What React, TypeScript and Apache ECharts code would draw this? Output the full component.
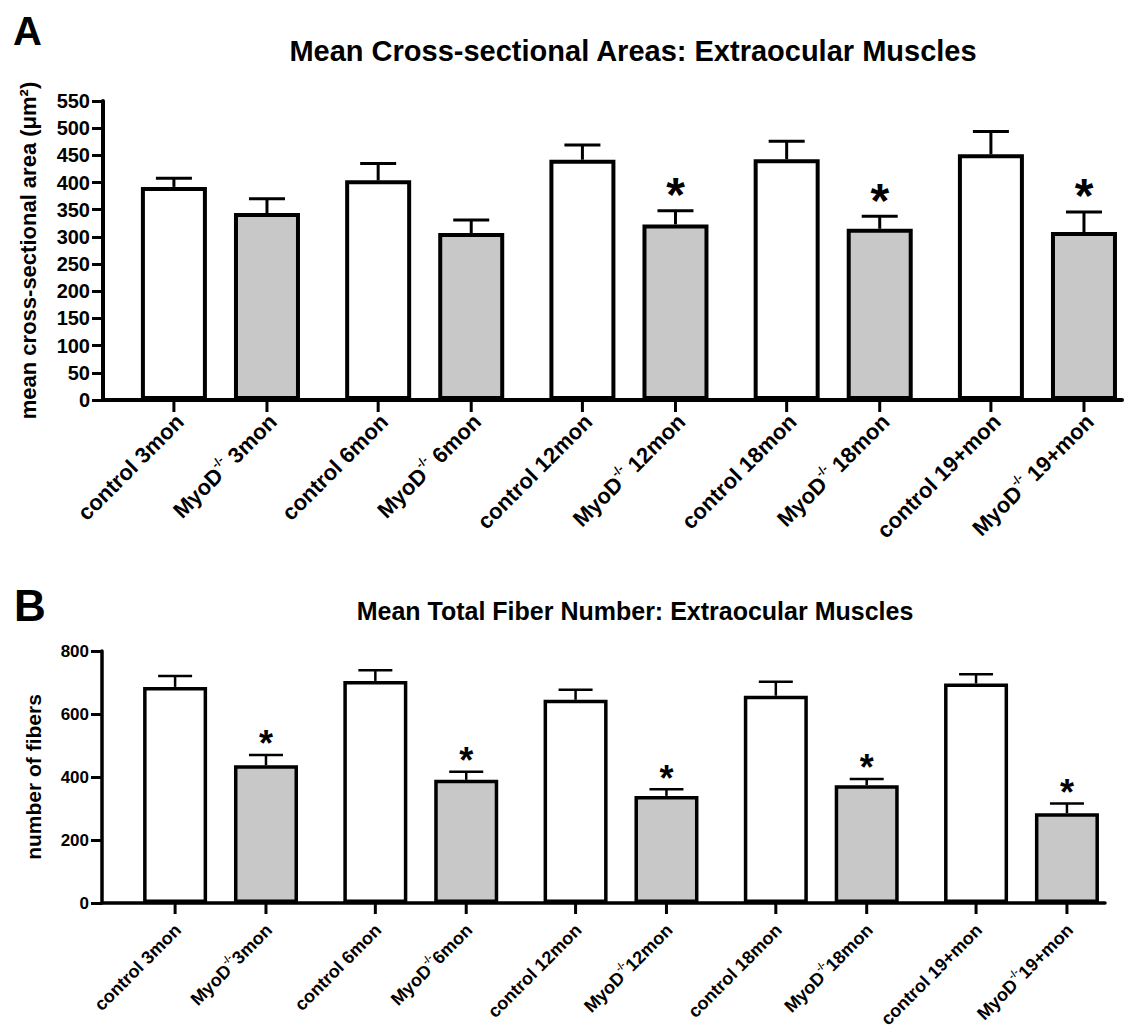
import React, { useEffect, useRef } from 'react';
import * as echarts from 'echarts';

const FONT = '"Liberation Sans", Arial, Helvetica, sans-serif';

// ---------- data ----------
const groups = ['3mon', '6mon', '12mon', '18mon', '19+mon'];

const csaControl = [392, 404, 442, 443, 452];
const csaControlErr = [16, 31, 27, 33, 42];
const csaMyoD = [344, 307, 323, 315, 309];
const csaMyoDErr = [26, 24, 25, 23, 37];
const csaMyoDSig = [0, 0, 1, 1, 1];
const csaYTicks = [0, 550, 50]; // min, max, interval

const fiberControl = [686, 705, 645, 658, 697];
const fiberControlErr = [35, 34, 32, 44, 29];
const fiberMyoD = [437, 391, 340, 374, 285];
const fiberMyoDErr = [33, 26, 21, 20, 31];
const fiberMyoDSig = [1, 1, 1, 1, 1];
const fiberYTicks = [0, 800, 200];

const titleA = 'Mean Cross-sectional Areas: Extraocular Muscles';
const titleB = 'Mean Total Fiber Number: Extraocular Muscles';
const yNameA = 'mean cross-sectional area (\u03bcm\u00b2)';
const yNameB = 'number of fibers';

// ---------- panel styles ----------
const panels = [
  {
    grid: { left: 103, top: 101, width: 1019, height: 299 },
    xMin: -0.575, xMax: 4.414,
    barW: 66, gap: 0.41, border: 4, axisW: 4, errW: 3, capW: 36,
    tickLen: 12, tickW: 3, labelSize: 22, supSize: 12, labelDx: 6, labelDy: 18, sep: ' ',
    starSize: 48, starDy: 16, yLabelSize: 20, yNameSize: 22, yNameGap: 64, yLabelMargin: 13,
  },
  {
    grid: { left: 102, top: 651, width: 1003, height: 252 },
    xMin: -0.592, xMax: 4.417,
    barW: 64, gap: 0.42, border: 3.5, axisW: 3.5, errW: 2.5, capW: 34,
    tickLen: 11, tickW: 3, labelSize: 18, supSize: 10, labelDx: 3, labelDy: 24, sep: '',
    starSize: 36, starDy: 11, yLabelSize: 17, yNameSize: 21, yNameGap: 58, yLabelMargin: 13,
  },
];

function customData(ctrl: number[], ctrlErr: number[], myo: number[], myoErr: number[], sig: number[]) {
  const out: number[][] = [];
  groups.forEach((_, i) => {
    out.push([i, 0, ctrl[i], ctrlErr[i], 0]);
    out.push([i, 1, myo[i], myoErr[i], sig[i]]);
  });
  return out;
}

function makeRender(p: any) {
  const rich = {
    a: { fontSize: p.labelSize, fontWeight: 'bold', fontFamily: FONT, color: '#000', lineHeight: p.labelSize + 6 },
    s: { fontSize: p.supSize, fontWeight: 'bold', fontFamily: FONT, color: '#000', verticalAlign: 'top' },
  };
  return (params: any, api: any) => {
    const g = api.value(0);
    const side = api.value(1);
    const mean = api.value(2);
    const err = api.value(3);
    const sig = api.value(4);
    const base = api.coord([g, 0]);
    const half = (p.barW * (1 + p.gap)) / 2;
    const cx = base[0] + (side === 0 ? -half : half);
    const y0 = base[1];
    const yTop = api.coord([g, mean])[1];
    const yCap = api.coord([g, mean + err])[1];
    const label = side === 0
      ? `{a|control ${groups[g]}}`
      : `{a|MyoD}{s|-/-}{a|${p.sep}${groups[g]}}`;
    const children: any[] = [
      { type: 'line', shape: { x1: cx, y1: yTop, x2: cx, y2: yCap }, style: { stroke: '#000', lineWidth: p.errW } },
      { type: 'line', shape: { x1: cx - p.capW / 2, y1: yCap, x2: cx + p.capW / 2, y2: yCap }, style: { stroke: '#000', lineWidth: p.errW } },
      { type: 'line', shape: { x1: cx, y1: y0, x2: cx, y2: y0 + p.tickLen }, style: { stroke: '#000', lineWidth: p.tickW } },
      {
        type: 'text', x: cx + p.labelDx, y: y0 + p.labelDy, rotation: Math.PI / 4,
        style: { text: label, rich, align: 'right', verticalAlign: 'middle', fill: '#000' },
      },
    ];
    if (sig) {
      children.push({
        type: 'text', x: cx, y: yCap - p.starDy,
        style: { text: '*', fill: '#000', font: `bold ${p.starSize}px ${FONT}`, align: 'center', verticalAlign: 'middle' },
      });
    }
    return { type: 'group', children };
  };
}

export default function App() {
  const ref = useRef<HTMLDivElement>(null);
  useEffect(() => {
    document.body.style.margin = '0';
    const chart = echarts.init(ref.current as HTMLDivElement, null, { renderer: 'svg' });
    const sets = [
      { ctrl: csaControl, ctrlErr: csaControlErr, myo: csaMyoD, myoErr: csaMyoDErr, sig: csaMyoDSig, ticks: csaYTicks, yName: yNameA },
      { ctrl: fiberControl, ctrlErr: fiberControlErr, myo: fiberMyoD, myoErr: fiberMyoDErr, sig: fiberMyoDSig, ticks: fiberYTicks, yName: yNameB },
    ];
    const grid: any[] = [];
    const xAxis: any[] = [];
    const yAxis: any[] = [];
    const series: any[] = [];
    panels.forEach((p, k) => {
      const s = sets[k];
      grid.push({ ...p.grid, containLabel: false });
      xAxis.push({
        type: 'value', gridIndex: k, min: p.xMin, max: p.xMax,
        axisLine: { show: true, onZero: false, lineStyle: { color: '#000', width: p.axisW } },
        axisTick: { show: false }, axisLabel: { show: false }, splitLine: { show: false },
      });
      yAxis.push({
        type: 'value', gridIndex: k, min: s.ticks[0], max: s.ticks[1], interval: s.ticks[2],
        name: s.yName, nameLocation: 'middle', nameGap: p.yNameGap,
        nameTextStyle: { fontSize: p.yNameSize, fontWeight: 'bold', color: '#000', fontFamily: FONT },
        axisLine: { show: true, onZero: false, lineStyle: { color: '#000', width: p.axisW } },
        axisTick: { show: true, length: 11, lineStyle: { color: '#000', width: 3 } },
        axisLabel: { fontSize: p.yLabelSize, fontWeight: 'bold', color: '#000', fontFamily: FONT, margin: p.yLabelMargin },
        splitLine: { show: false },
      });
      series.push({
        type: 'bar', xAxisIndex: k, yAxisIndex: k, barWidth: p.barW, barGap: `${Math.round(p.gap * 100)}%`,
        data: s.ctrl.map((v, i) => [i, v]),
        itemStyle: { color: '#ffffff', borderColor: '#000', borderWidth: p.border },
      });
      series.push({
        type: 'bar', xAxisIndex: k, yAxisIndex: k, barWidth: p.barW, barGap: `${Math.round(p.gap * 100)}%`,
        data: s.myo.map((v, i) => [i, v]),
        itemStyle: { color: '#c8c8c8', borderColor: '#000', borderWidth: p.border },
      });
      series.push({
        type: 'custom', xAxisIndex: k, yAxisIndex: k, clip: false, z: 10,
        data: customData(s.ctrl, s.ctrlErr, s.myo, s.myoErr, s.sig),
        renderItem: makeRender(p),
      });
    });
    chart.setOption({
      animation: false,
      backgroundColor: '#fff',
      textStyle: { fontFamily: FONT },
      grid, xAxis, yAxis, series,
      graphic: [
        { type: 'text', x: 13, y: 31, style: { text: 'A', fill: '#000', font: `bold 40px ${FONT}`, align: 'left', verticalAlign: 'middle' } },
        { type: 'text', x: 14, y: 605, style: { text: 'B', fill: '#000', font: `bold 44px ${FONT}`, align: 'left', verticalAlign: 'middle' } },
        { type: 'text', x: 633, y: 51, style: { text: titleA, fill: '#000', font: `bold 29px ${FONT}`, align: 'center', verticalAlign: 'middle' } },
        { type: 'text', x: 635, y: 611, style: { text: titleB, fill: '#000', font: `bold 25px ${FONT}`, align: 'center', verticalAlign: 'middle' } },
      ],
    });
    return () => chart.dispose();
  }, []);
  return <div ref={ref} style={{ width: 1148, height: 1032 }} />;
}
